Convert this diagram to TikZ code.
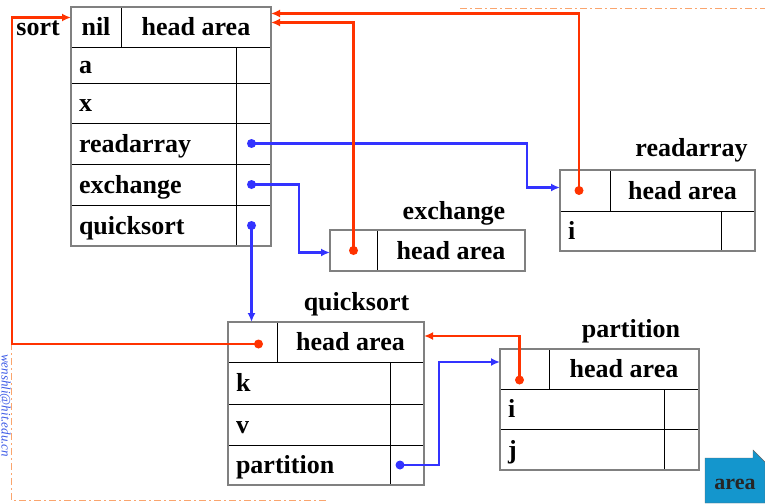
\documentclass[tikz,border=0pt]{standalone}
\usepackage{fontspec}
\setmainfont{Liberation Serif}
\usetikzlibrary{positioning,arrows.meta,calc}
\definecolor{ptrred}{RGB}{255,51,0}
\definecolor{ptrblue}{RGB}{51,51,255}
\definecolor{framegray}{RGB}{128,128,128}
\definecolor{slideorange}{RGB}{250,165,110}
\definecolor{markblue}{RGB}{60,90,230}
\definecolor{buttonblue}{RGB}{20,150,205}
\tikzset{
    cell/.style={
        rectangle,
        draw=black,
        line width=1pt,
        inner sep=0pt,
        outer sep=0pt,
        minimum height=41pt,
        text height=20pt,
        text depth=3pt,
        font=\fontsize{26}{30}\selectfont\bfseries
    },
    hcell/.style={cell, minimum width=#1},
    namecell/.style={cell, text width=#1, inner xsep=8pt, align=left},
    ptrcell/.style={cell, minimum width=#1},
    frame/.style={draw=framegray, line width=1.3pt},
    title/.style={
        inner sep=1pt,
        text height=18pt,
        text depth=6pt,
        font=\fontsize{26}{30}\selectfont\bfseries
    },
    dot/.style={circle, fill=#1, inner sep=0pt, minimum size=9pt},
    bluelink/.style={draw=ptrblue, line width=2.6pt, ->},
    redlink/.style={draw=ptrred, line width=2.6pt, ->},
    slideline/.style={draw=slideorange, line width=1pt, dash pattern=on 7pt off 3pt on 2pt off 3pt}
}
\begin{document}
\begin{tikzpicture}[x=1pt, y=-1pt, >={Latex[length=9pt,width=8pt]}]
    \useasboundingbox (0,0) rectangle (765,503);

    % slide frame and mail mark
    \draw [slideline] (460,9) -- (765,9);
    \draw [slideline] (11,343) -- (11,500) -- (326,500);
    \node (mail) [rotate=-90, anchor=west, inner sep=0pt, text=markblue, font=\fontsize{13}{15}\selectfont\itshape] at (5,354) {wenshli@hit.edu.cn};

    % sort
    \node (sort-nil) [hcell=50pt, anchor=north west] at (71,7) {nil};
    \node (sort-head) [hcell=150pt, right=0pt of sort-nil] {head area};
    \node (sort-a) [namecell=149pt, minimum height=35pt, below=0pt of sort-nil.south west, anchor=north west] {a};
    \node (sort-a-ptr) [ptrcell=35pt, minimum height=35pt, right=0pt of sort-a] {};
    \node (sort-x) [namecell=149pt, minimum height=40pt, below=0pt of sort-a] {x};
    \node (sort-x-ptr) [ptrcell=35pt, minimum height=40pt, right=0pt of sort-x] {};
    \node (sort-ra) [namecell=149pt, below=0pt of sort-x] {readarray};
    \node (sort-ra-ptr) [ptrcell=35pt, right=0pt of sort-ra] {};
    \node (sort-ex) [namecell=149pt, below=0pt of sort-ra] {exchange};
    \node (sort-ex-ptr) [ptrcell=35pt, right=0pt of sort-ex] {};
    \node (sort-qs) [namecell=149pt, below=0pt of sort-ex] {quicksort};
    \node (sort-qs-ptr) [ptrcell=35pt, right=0pt of sort-qs] {};
    \draw [frame] (sort-nil.north west) rectangle (sort-qs-ptr.south east);
    \node (sort-title) [title, left=10pt of sort-nil, yshift=-2pt] {sort};

    % exchange
    \node (ex-ptr) [hcell=47pt, anchor=north west] at (330,230) {};
    \node (ex-head) [hcell=148pt, right=0pt of ex-ptr] {head area};
    \draw [frame] (ex-ptr.north west) rectangle (ex-head.south east);
    \node (ex-title) [title, above=3pt of ex-head, xshift=3pt] {exchange};

    % readarray
    \node (ra-ptr) [hcell=50pt, anchor=north west] at (560,170) {};
    \node (ra-head) [hcell=145pt, right=0pt of ra-ptr] {head area};
    \node (ra-i) [namecell=145pt, minimum height=40pt, below=0pt of ra-ptr.south west, anchor=north west] {i};
    \node (ra-i-ptr) [ptrcell=34pt, minimum height=40pt, right=0pt of ra-i] {};
    \draw [frame] (ra-ptr.north west) rectangle (ra-i-ptr.south east);
    \node (ra-title) [title, above=6pt of ra-head, xshift=9pt] {readarray};

    % quicksort
    \node (qs-ptr) [hcell=49pt, minimum height=40pt, anchor=north west] at (228,322) {};
    \node (qs-head) [hcell=147pt, minimum height=40pt, right=0pt of qs-ptr] {head area};
    \node (qs-k) [namecell=146pt, minimum height=42pt, below=0pt of qs-ptr.south west, anchor=north west] {k};
    \node (qs-k-ptr) [ptrcell=34pt, minimum height=42pt, right=0pt of qs-k] {};
    \node (qs-v) [namecell=146pt, below=0pt of qs-k] {v};
    \node (qs-v-ptr) [ptrcell=34pt, right=0pt of qs-v] {};
    \node (qs-part) [namecell=146pt, minimum height=40pt, below=0pt of qs-v] {partition};
    \node (qs-part-ptr) [ptrcell=34pt, minimum height=40pt, right=0pt of qs-part] {};
    \draw [frame] (qs-ptr.north west) rectangle (qs-part-ptr.south east);
    \node (qs-title) [title, above=4pt of qs-head, xshift=6pt] {quicksort};

    % partition
    \node (part-ptr) [hcell=49pt, minimum height=40pt, anchor=north west] at (500,349) {};
    \node (part-head) [hcell=150pt, minimum height=40pt, right=0pt of part-ptr] {head area};
    \node (part-i) [namecell=148pt, minimum height=40pt, below=0pt of part-ptr.south west, anchor=north west] {i};
    \node (part-i-ptr) [ptrcell=35pt, minimum height=40pt, right=0pt of part-i] {};
    \node (part-j) [namecell=148pt, below=0pt of part-i] {j};
    \node (part-j-ptr) [ptrcell=35pt, right=0pt of part-j] {};
    \draw [frame] (part-ptr.north west) rectangle (part-j-ptr.south east);
    \node (part-title) [title, above=4pt of part-head, xshift=7pt] {partition};

    % pointer dots
    \node (sort-ra-dot) [dot=ptrblue, xshift=-2pt] at (sort-ra-ptr.center) {};
    \node (sort-ex-dot) [dot=ptrblue, xshift=-2pt] at (sort-ex-ptr.center) {};
    \node (sort-qs-dot) [dot=ptrblue, xshift=-2pt] at (sort-qs-ptr.center) {};
    \node (qs-part-dot) [dot=ptrblue, xshift=-7pt] at (qs-part-ptr.center) {};
    \node (ex-dot) [dot=ptrred] at (ex-ptr.center) {};
    \node (ra-dot) [dot=ptrred, xshift=-6pt] at (ra-ptr.center) {};
    \node (qs-dot) [dot=ptrred, xshift=6pt, yshift=-2pt] at (qs-ptr.center) {};
    \node (part-dot) [dot=ptrred, xshift=-5pt, yshift=-11pt] at (part-ptr.center) {};

    % access links
    \draw [bluelink] (sort-ra-dot.center) -| ([xshift=-33pt, yshift=3pt]ra-ptr.west) |- ([yshift=3pt]ra-ptr.west);
    \draw [bluelink] (sort-ex-dot.center) -| ([xshift=-31pt, yshift=-2pt]ex-ptr.west) |- ([yshift=-2pt]ex-ptr.west);
    \draw [bluelink] (sort-qs-dot.center) -- (sort-qs-dot.center |- qs-ptr.north);
    \draw [bluelink] (qs-part-dot.center) -| ([xshift=-61pt, yshift=7pt]part-ptr.west) |- ([yshift=7pt]part-ptr.west);

    % outer links
    \draw [redlink] (qs-dot.center) -| ([xshift=-59pt, yshift=10pt]sort-nil.west) |- ([yshift=10pt]sort-nil.west);
    \draw [redlink] (ra-dot.center) |- ([yshift=14pt]sort-head.east);
    \draw [redlink] (ex-dot.center) |- ([yshift=5pt]sort-head.east);
    \draw [redlink] (part-dot.center) |- ([yshift=6pt]qs-head.east);

    % area button
    \draw [draw=black!60, fill=buttonblue] (705,458) -- (753,458) -- (753,450) -- (765,462) -- (765,503) -- (705,503) -- cycle;
    \node (area) [text=black!85, font=\fontsize{22}{24}\selectfont\bfseries] at (735,484) {area};
\end{tikzpicture}
\end{document}
